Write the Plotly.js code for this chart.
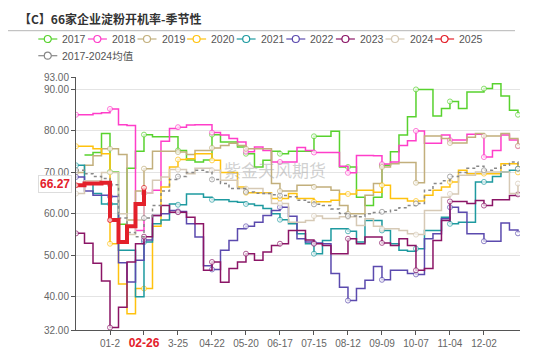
<!DOCTYPE html>
<html><head><meta charset="utf-8">
<script src="https://cdn.plot.ly/plotly-3.0.1.min.js"></script>
<style>html,body{margin:0;padding:0;background:#fff}#chart{width:550px;height:349px}</style>
</head><body><div id="chart"></div>
<script>
const weeks = ["01-01","01-08","01-15","01-22","01-29","02-05","02-12","02-19","02-26","03-04","03-11","03-18","03-25",
"04-01","04-08","04-15","04-22","04-29","05-06","05-13","05-20","05-27","06-03","06-10","06-17","06-24",
"07-01","07-08","07-15","07-22","07-29","08-05","08-12","08-19","08-26","09-02","09-09","09-16","09-23","09-30",
"10-07","10-14","10-21","10-28","11-04","11-11","11-18","11-25","12-02","12-09","12-16","12-23","12-30"];
const tickWeeks = ["01-29","02-26","03-25","04-22","05-20","06-17","07-15","08-12","09-09","10-07","11-04","12-02"];
const tickLabels = ["01-2","<span style=\"color:#e3202a;font-size:12px;font-weight:bold\">02-26</span>","3-25","04-22","05-20","06-17","07-15","08-12","09-09","10-07","11-04","12-02"];
const yTicks = [32,40,50,60,70,80,90,93];

const v2017 = [null,74.2,74.8,79.4,70.1,57.5,71,75.1,79.1,78.6,78.6,78.6,75.3,73,72.5,73,79.1,77.3,77.3,76.1,74.5,71.3,72.9,75.1,74.5,75.1,75.1,75.1,78.7,78.7,79.9,71.3,71.3,64,62,64,71.7,75,79,83.4,90,90,83.6,85.4,87.1,85.4,89.4,89.4,90.2,91.4,88.4,85,83.9];
const v2018 = [83.9,83.9,84.2,84.4,85.3,81.5,81.3,56,65,65.7,77.5,80.6,80.9,81.4,81.5,81.5,79.6,79,78.2,77.3,75,76.1,75.3,72.5,72.5,72.5,76,75.3,74.8,74.8,74.8,71.5,69.9,74.1,74.1,74,72,72.5,76.5,77.6,80,77,77,79,77.8,77.8,79.2,79.2,73.7,75.3,79,77.8,76.3];
const v2019 = [70,71.7,74,75.7,75.7,74.3,58.5,65.5,70.9,75.1,75.1,75.1,74.9,74.3,75.3,75.3,75.9,76.5,77,76.5,75.7,75.7,75.7,67.3,65.5,65.5,66.9,66.9,66.5,66.5,65.7,62,60,60,64.5,67.3,71.3,72.1,72.4,72.4,67.5,78.8,78.8,78.2,77.1,77.1,78.5,79.4,78.8,78.8,79.4,78.2,76.4];
const v2020 = [76.3,76.3,75.7,74.5,52.8,43.1,35.9,42,42,57,66.5,71.3,73.1,73.3,74.5,74.5,72.9,70,70,66.5,65.1,65.1,65.1,63.7,63.7,64.9,63.7,63.7,62.9,62.9,63.3,64.8,64.8,65.7,65.7,65.2,66.9,63.7,63.7,63.1,63.1,64.5,65.7,66.5,67.7,70.5,69.7,69.7,69.7,69.7,72.1,72.1,70];
const v2021 = [71.7,67.5,64.9,62.4,62.4,51.2,51.2,40,53.2,57.6,58.5,62.4,62.2,64.8,64.8,64,63.4,63.4,63,62.8,62.4,62,61.3,60,58.6,57.6,55.2,52.8,50.4,53.6,56.4,56.4,55.8,53.2,58.4,58.4,56,52.8,51.2,51,51.6,56,56,59.2,57.6,58,58,67.7,67.7,69,70.1,70.5,70.9];
const v2022 = [68.9,65.5,64.5,64.5,64.2,48.2,43.6,48.8,53.7,59.6,60,60.8,60.6,57.6,54.4,47.5,46.6,51.2,53.6,56.4,57,58,59.6,60.8,61.6,59.4,54,53.2,53,52.8,45.6,42.3,39.1,42,44,47.3,44.1,46.4,46.4,45.6,45.4,54,55.2,58.8,61.6,60.4,55.2,55.2,53.4,53.4,57.8,56.1,55.3];
const v2023 = [55.3,52.9,48.1,43.8,32.6,37.5,48.4,52.8,54.5,59.6,62,60.4,60.4,59.2,57.6,46.4,48.4,43.5,46.8,48.4,50.4,48.8,50.8,52.4,52.8,56,56,53.7,52.8,52.4,50.4,50.4,54,52.8,54.4,54.4,53,52.4,54,52.4,46.4,46.8,53.6,58.4,63,63,62.5,63.2,62,63.4,63.4,64.4,64.7];
const v2024 = [64.9,68,68,70,70,60,55,58.5,65,68.1,68.9,70.7,70.7,69.7,71,71,70.5,68.1,68.1,66.1,66.1,66.1,64.9,62.5,62.5,58,58,58.4,59.5,58.9,58.9,59.3,59.3,57.2,58.8,57,56.4,56.4,56,55.2,55,60.8,60.8,64,64.8,69.3,69.3,70.1,70.1,70.1,70.1,64.9,67.3];
const v2025 = [66.9,67.3,67.3,67.5,58.5,53.2,57,62.4,66.27];
const vAvg = [70.5,69.7,69,68.5,67,59,55.5,54.5,59,62,65.5,68.3,69,70,70.5,70.1,68.3,67.3,66.1,66.1,65.3,65,64.9,64.6,64.4,64.1,63.3,62.8,62.3,62,61.2,60.1,59.5,59.3,60,60.3,60.5,60.9,61.5,62,62.5,65.7,67.3,68,69,70,71,71.5,70.5,71,71.7,72.5,70.9];
const latestLabel = "66.27";

const names = ["2017","2018","2019","2020","2021","2022","2023","2024","2025","2017-2024均值"];
const colors = ["#58d22e","#ff3ec9","#c2af7c","#ffc20e","#1e9aa0","#5b4aae","#8b1566","#d6c9b5","#e3202a","#888888"];
const values = [v2017,v2018,v2019,v2020,v2021,v2022,v2023,v2024,v2025,vAvg];

const L=76, R=30, T=77, B=19, W=550, H=349;
const PW=W-L-R, PH=H-T-B;
const px = x => (x-L)/PW;
const py = y => (H-B-y)/PH;

const order = [0,1,2,3,4,5,6,7,9,8];
const traces = order.map(k => {
  const ys = values[k];
  const xs = weeks.slice(0, ys.length);
  const isAvg = k===9, isCur = k===8;
  return {
    type:'scatter', mode:'lines+markers', name:names[k],
    x:xs, y:ys, showlegend:false, connectgaps:false,
    line:{color:colors[k], width:isCur?4:1.5, shape:'hv', dash:isAvg?'dot':'solid'},
    marker:{symbol:'circle', size:xs.map((w,i)=> i%4===0?5:0), color:'#ffffff',
            line:{color:colors[k], width:1}},
    hoverinfo:'skip'
  };
});

const shapes = [
  {type:'line', xref:'paper', yref:'paper', x0:px(8), x1:px(515), y0:py(30.7), y1:py(30.7), line:{color:'#b5b5b5', width:1}}
];
const annotations = [
  {xref:'paper', yref:'paper', x:px(17), y:py(18), xanchor:'left', yanchor:'middle', showarrow:false,
   text:'<b>【C】66家企业淀粉开机率-季节性</b>', font:{family:'Noto Sans CJK SC', size:12, color:'#333333'}},
  {xref:'paper', yref:'paper', x:px(275), y:py(169), xanchor:'center', yanchor:'middle', showarrow:false,
   text:'紫金天风期货', font:{family:'Noto Sans CJK SC', size:17, color:'rgba(170,170,170,0.55)'}},
  {xref:'paper', yref:'y', x:0, y:67.2, xanchor:'right', yanchor:'middle', xshift:-4, showarrow:false,
   text:'<b>'+latestLabel+'</b>', font:{family:'Liberation Sans, Arial', size:12, color:'#e3202a'},
   bgcolor:'#ffffff', bordercolor:'#dddddd', borderwidth:1, borderpad:1}
];
names.forEach((n,k) => {
  const row = k<9 ? 0 : 1;
  const col = k<9 ? k : 0;
  const sx = 38.3 + 49.6*col;
  const sy = row===0 ? 39 : 55.7;
  shapes.push({type:'line', xref:'paper', yref:'paper', x0:px(sx), x1:px(sx+19), y0:py(sy), y1:py(sy), line:{color:colors[k], width:1.2}});
  shapes.push({type:'circle', xref:'paper', yref:'paper', xsizemode:'pixel', ysizemode:'pixel',
    xanchor:px(sx+9.5), yanchor:py(sy), x0:-3.5, x1:3.5, y0:-3.5, y1:3.5, fillcolor:'#ffffff', line:{color:colors[k], width:1.2}});
  annotations.push({xref:'paper', yref:'paper', x:px(sx+22), y:py(sy), xanchor:'left', yanchor:'middle', showarrow:false,
    text:n, font:{family:'Liberation Sans, Noto Sans CJK SC', size:10.5, color:'#555555'}});
});

const layout = {
  width:W, height:H, margin:{l:L, r:R, t:T, b:B, pad:0},
  paper_bgcolor:'#ffffff', plot_bgcolor:'#ffffff', showlegend:false,
  font:{family:'Liberation Sans, Arial', size:10, color:'#666666'},
  xaxis:{type:'category', categoryorder:'array', categoryarray:weeks, range:[0,52.24],
    tickmode:'array', tickvals:tickWeeks, ticktext:tickLabels, showgrid:false, zeroline:false,
    showline:true, linecolor:'#555555', linewidth:1, ticks:'outside', ticklen:4, tickcolor:'#555555',
    tickfont:{size:10, color:'#666666'}},
  yaxis:{range:[32,93], tickmode:'array', tickvals:yTicks, tickformat:'.2f', showgrid:true, gridcolor:'#e4e4e4', gridwidth:1,
    zeroline:false, showline:true, linecolor:'#555555', linewidth:1, ticks:'outside', ticklen:4, tickcolor:'#555555',
    tickfont:{size:10, color:'#666666'}},
  shapes:shapes, annotations:annotations, hovermode:false
};
Plotly.newPlot('chart', traces, layout, {staticPlot:true, displayModeBar:false});
</script></body></html>
